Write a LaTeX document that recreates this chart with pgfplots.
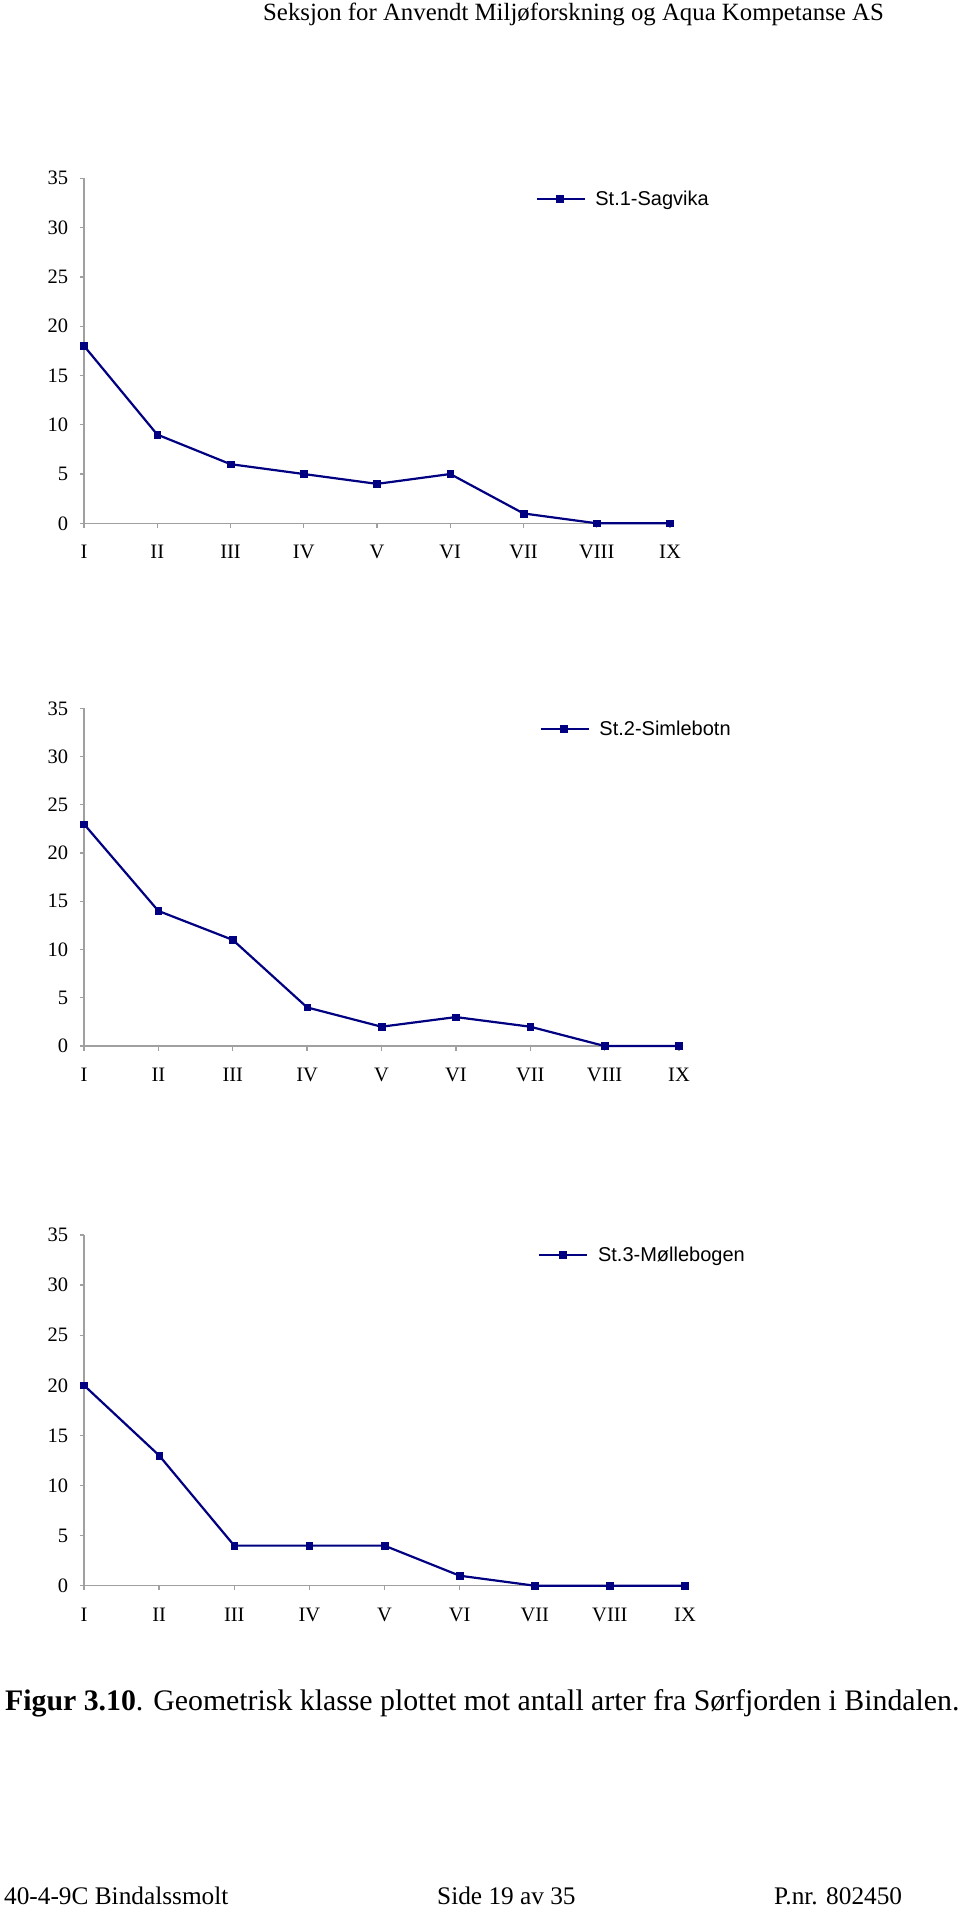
\documentclass[border=0pt]{standalone}
\usepackage{fontspec}
\setmainfont{Liberation Serif}
\newfontfamily\arialfont{Liberation Sans}
\usepackage{pgfplots}
\pgfplotsset{compat=1.18}
\definecolor{navyline}{RGB}{0,0,128}
\definecolor{axisgray}{RGB}{160,160,160}
\pgfplotsset{
  chart/.style={
    anchor=south west, scale only axis,
    xmin=0, xmax=8, ymin=0, ymax=35,
    axis x line*=bottom, axis y line*=left,
    axis line style={axisgray, line width=1.5pt, -},
    xtick={0,...,8}, xticklabels={I,II,III,IV,V,VI,VII,VIII,IX},
    ytick={0,5,...,35},
    tick align=outside, major tick length=4.5pt,
    tick style={axisgray, line width=1.3pt},
    ticklabel style={font=\fontsize{20.5pt}{24pt}\selectfont, inner sep=0pt},
    xticklabel style={anchor=north, yshift=-17.5pt},
    yticklabel style={anchor=east, xshift=-11.2pt},
    /pgf/number format/assume math mode=true,
    clip=false,
    legend cell align=left,
    legend style={draw=none, fill=none, inner sep=0pt, outer sep=0pt,
      font=\arialfont\fontsize{20pt}{24pt}\selectfont,
      anchor=west,
      nodes={inner sep=0pt},
      /tikz/every odd column/.append style={column sep=9.5pt}},
    legend image code/.code={\draw[##1, mark repeat=2, mark phase=2] plot coordinates {(0pt,0pt) (23pt,0pt) (48pt,0pt)};},
  },
  series/.style={color=navyline, line width=2.2pt, mark=square*,
    mark size=3.3pt, mark options={solid, fill=navyline, line width=0.5pt}},
}
\begin{document}
\begin{tikzpicture}
\path[use as bounding box] (0,0) rectangle (960pt,-1906pt);
\node[anchor=base west, inner sep=0pt] at (263pt,-20.7pt) {\fontsize{24.8pt}{30pt}\selectfont Seksjon for Anvendt Miljøforskning og Aqua Kompetanse AS};

% Chart 1
\begin{axis}[chart, at={(84pt,-523.3pt)}, width=586pt, height=345pt,
  legend style={at={(0.7708,0.940)}}]
\addplot[series] coordinates {(0,18) (1,9) (2,6) (3,5) (4,4) (5,5) (6,1) (7,0) (8,0)};
\addlegendentry{St.1-Sagvika}
\end{axis}

% Chart 2
\begin{axis}[chart, at={(84pt,-1046pt)}, width=595pt, height=337.7pt,
  legend style={at={(0.766,0.9387)}}]
\addplot[series] coordinates {(0,23) (1,14) (2,11) (3,4) (4,2) (5,3) (6,2) (7,0) (8,0)};
\addlegendentry{St.2-Simlebotn}
\end{axis}

% Chart 3
\begin{axis}[chart, at={(84pt,-1585.7pt)}, width=601pt, height=350.7pt,
  legend style={at={(0.756,0.943)}}]
\addplot[series] coordinates {(0,20) (1,13) (2,4) (3,4) (4,4) (5,1) (6,0) (7,0) (8,0)};
\addlegendentry{St.3-Møllebogen}
\end{axis}

\node[anchor=base west, inner sep=0pt] at (5pt,-1710.7pt) {\fontsize{29.8pt}{34pt}\selectfont\textbf{Figur 3.10}. Geometrisk klasse plottet mot antall arter fra Sørfjorden i Bindalen.};

\node[anchor=base west, inner sep=0pt] at (4pt,-1904pt) {\fontsize{25.3pt}{30pt}\selectfont 40-4-9C Bindalssmolt};
\node[anchor=base west, inner sep=0pt] at (437pt,-1904pt) {\fontsize{25.3pt}{30pt}\selectfont Side 19 av 35};
\node[anchor=base west, inner sep=0pt] at (774pt,-1904pt) {\fontsize{25.3pt}{30pt}\selectfont P.nr. 802450};
\end{tikzpicture}
\end{document}
